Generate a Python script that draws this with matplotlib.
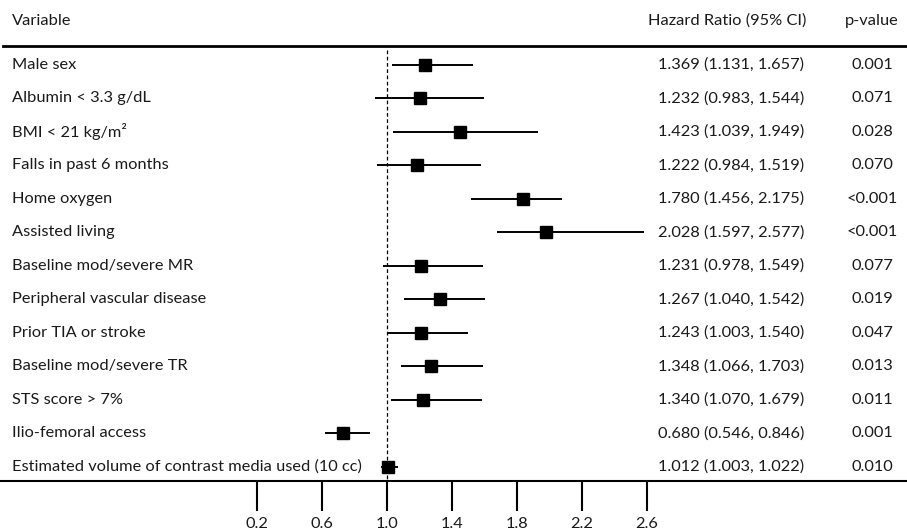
"""
Forest plot: hazard ratios with 95% CI, table columns on the right.
"""

import numpy as np
import matplotlib
matplotlib.use("Agg")
import matplotlib.pyplot as plt
from matplotlib.transforms import blended_transform_factory

plt.rcParams["font.family"] = ["Lato", "DejaVu Sans"]

# ─────────────────────────────────────────────
# DATA
# ─────────────────────────────────────────────
labels = [
    "Male sex",
    "Albumin < 3.3 g/dL",
    "BMI < 21 kg/m²",
    "Falls in past 6 months",
    "Home oxygen",
    "Assisted living",
    "Baseline mod/severe MR",
    "Peripheral vascular disease",
    "Prior TIA or stroke",
    "Baseline mod/severe TR",
    "STS score > 7%",
    "Ilio-femoral access",
    "Estimated volume of contrast media used (10 cc)",
]
hr_text = [
    "1.369 (1.131, 1.657)",
    "1.232 (0.983, 1.544)",
    "1.423 (1.039, 1.949)",
    "1.222 (0.984, 1.519)",
    "1.780 (1.456, 2.175)",
    "2.028 (1.597, 2.577)",
    "1.231 (0.978, 1.549)",
    "1.267 (1.040, 1.542)",
    "1.243 (1.003, 1.540)",
    "1.348 (1.066, 1.703)",
    "1.340 (1.070, 1.679)",
    "0.680 (0.546, 0.846)",
    "1.012 (1.003, 1.022)",
]
p_text = ["0.001", "0.071", "0.028", "0.070", "<0.001", "<0.001", "0.077",
          "0.019", "0.047", "0.013", "0.011", "0.001", "0.010"]

# positions of the marks as drawn in the figure
est = [1.234, 1.206, 1.449, 1.186, 1.835, 1.978, 1.207, 1.326, 1.207, 1.269, 1.220, 0.727, 1.008]
lo  = [1.033, 0.926, 1.039, 0.937, 1.515, 1.679, 0.977, 1.106, 0.998, 1.086, 1.023, 0.618, 0.963]
hi  = [1.527, 1.599, 1.927, 1.578, 2.079, 2.582, 1.593, 1.603, 1.497, 1.593, 1.586, 0.895, 1.066]

ticks = [0.2, 0.6, 1.0, 1.4, 1.8, 2.2, 2.6]

# ─────────────────────────────────────────────
# LAYOUT (pixels)
# ─────────────────────────────────────────────
W, H = 907, 531
AX_BOTTOM = 481              # pixel row of the x-axis line
X_ONE, PX_PER_UNIT = 387, 162.5
ROW0, ROW_STEP = 64.6, 33.53
TXT = "#1a1a1a"


def py(p):
    """pixel row (from top) -> row data coordinate"""
    return (p - ROW0) / ROW_STEP


fig = plt.figure(figsize=(W / 100, H / 100), dpi=100)
ax = fig.add_axes([0, (H - AX_BOTTOM) / H, 1, AX_BOTTOM / H])
ax.set_xlim(1 - X_ONE / PX_PER_UNIT, 1 + (W - X_ONE) / PX_PER_UNIT)
ax.set_ylim(py(AX_BOTTOM), py(0))

rows = np.arange(len(labels))

# ── marks ─────────────────────────────────
ax.vlines(1.0, py(50), py(AX_BOTTOM), colors="black", lw=0.9, linestyles=(0, (3, 2)))
ax.hlines(rows, lo, hi, colors="black", lw=1.4)
ax.plot(est, rows, "s", color="black", ms=9, lw=0)

# ── axis ──────────────────────────────────
for side in ["top", "left", "right"]:
    ax.spines[side].set_visible(False)
ax.spines["bottom"].set_linewidth(1.5)
ax.set_yticks([])
ax.set_xticks(ticks)
ax.set_xticklabels([f"{t:.1f}" for t in ticks])
ax.tick_params(axis="x", direction="out", length=21.6, width=1.5, pad=4,
               labelsize=11.8, labelcolor=TXT)

# ── table text ────────────────────────────
tr = blended_transform_factory(ax.transAxes, ax.transData)
fs = 11.8
ax.text(12 / W, py(21), "Variable", transform=tr, ha="left", va="center", fontsize=fs, color=TXT)
ax.text(727 / W, py(21), "Hazard Ratio (95% CI)", transform=tr, ha="center", va="center", fontsize=fs, color=TXT)
ax.text(872 / W, py(21), "p-value", transform=tr, ha="center", va="center", fontsize=fs, color=TXT)
ax.axhline(py(46), xmin=3 / W, xmax=1, color="black", lw=2)

for i in rows:
    ax.text(12 / W, i, labels[i], transform=tr, ha="left", va="center", fontsize=fs, color=TXT)
    ax.text(731.5 / W, i, hr_text[i], transform=tr, ha="center", va="center", fontsize=fs, color=TXT)
    ax.text(872 / W, i, p_text[i], transform=tr, ha="center", va="center", fontsize=fs, color=TXT)

fig.savefig("out.png", dpi=100)
